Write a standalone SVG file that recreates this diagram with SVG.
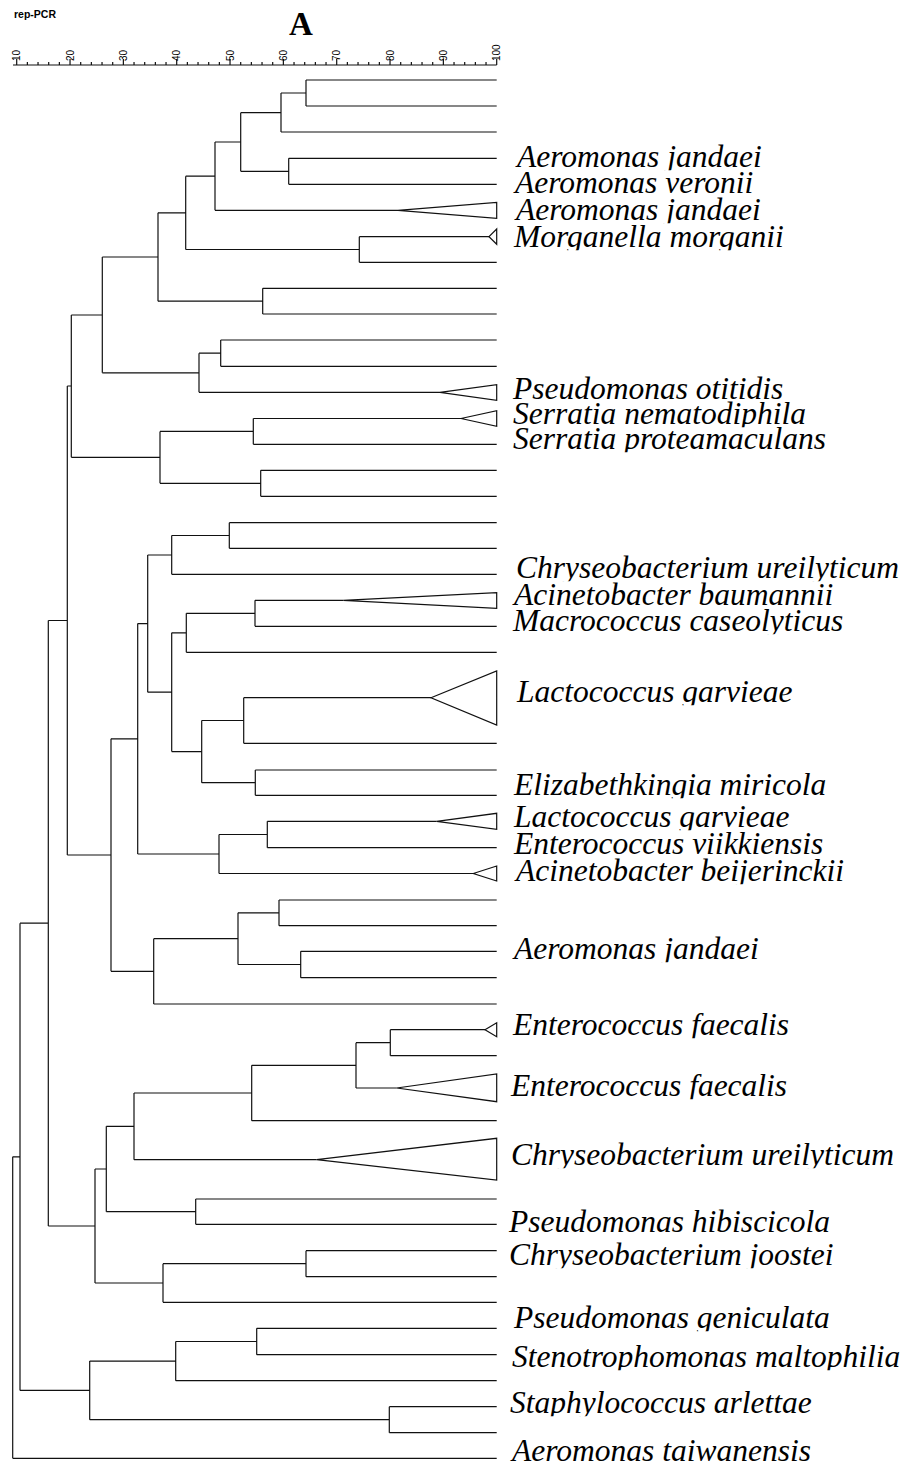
<svg xmlns="http://www.w3.org/2000/svg" width="912" height="1466" viewBox="0 0 912 1466">
  <style>
    .br { fill: none; stroke: #111; stroke-width: 1.2; }
    .tri { fill: #fff; stroke: #111; stroke-width: 1.2; stroke-linejoin: miter; }
    .lbl { font-family: "Liberation Serif", "Times New Roman", serif; font-style: italic; font-size: 31.5px; fill: #000; }
    .tick { font-family: "Liberation Sans", Arial, sans-serif; font-size: 10px; fill: #000; }
  </style>
  <defs>
    <!-- species labels lose the lower part of their descenders -->
    <clipPath id="cut" clipPathUnits="objectBoundingBox">
      <rect x="-0.05" y="-0.1" width="1.1" height="0.99"/>
    </clipPath>
  </defs>
  <rect width="912" height="1466" fill="#fff"/>

  <!-- header -->
  <g id="title">
    <text x="14" y="18" font-family="Liberation Sans, Arial, sans-serif" font-weight="bold" font-size="10.5">rep-PCR</text>
    <text x="289" y="35" font-family="Liberation Serif, Times New Roman, serif" font-weight="bold" font-size="33">A</text>
  </g>

  <!-- similarity scale (%) -->
  <g id="scale">
    <path class="br" d="M13,65H496.7"/>
    <path class="br" d="M16.7,65v-6 M27.37,65v-3 M38.03,65v-3 M48.7,65v-3 M59.37,65v-3 M70.03,65v-6 M80.7,65v-3 M91.37,65v-3 M102.03,65v-3 M112.7,65v-3 M123.37,65v-6 M134.03,65v-3 M144.7,65v-3 M155.37,65v-3 M166.03,65v-3 M176.7,65v-6 M187.37,65v-3 M198.03,65v-3 M208.7,65v-3 M219.37,65v-3 M230.03,65v-6 M240.7,65v-3 M251.37,65v-3 M262.03,65v-3 M272.7,65v-3 M283.37,65v-6 M294.03,65v-3 M304.7,65v-3 M315.37,65v-3 M326.03,65v-3 M336.7,65v-6 M347.37,65v-3 M358.03,65v-3 M368.7,65v-3 M379.37,65v-3 M390.03,65v-6 M400.7,65v-3 M411.37,65v-3 M422.03,65v-3 M432.7,65v-3 M443.37,65v-6 M454.03,65v-3 M464.7,65v-3 M475.37,65v-3 M486.03,65v-3 M496.7,65v-6"/>
    <text class="tick" transform="translate(20.3,61) rotate(-90)">10</text>
    <text class="tick" transform="translate(73.6,61) rotate(-90)">20</text>
    <text class="tick" transform="translate(127,61) rotate(-90)">30</text>
    <text class="tick" transform="translate(180.3,61) rotate(-90)">40</text>
    <text class="tick" transform="translate(233.6,61) rotate(-90)">50</text>
    <text class="tick" transform="translate(287,61) rotate(-90)">60</text>
    <text class="tick" transform="translate(340.3,61) rotate(-90)">70</text>
    <text class="tick" transform="translate(393.6,61) rotate(-90)">80</text>
    <text class="tick" transform="translate(447,61) rotate(-90)">90</text>
    <text class="tick" transform="translate(500.3,61) rotate(-90)">100</text>
  </g>

  <!-- branches: each internal node = horizontal stem from its parent + vertical joining its children -->
  <g id="connectors" class="br">
    <!-- terminal branches -->
    <path d="M306,80H496.7 M306,106H496.7 M281,132H496.7 M288.7,158.3H496.7 M288.7,184.3H496.7 M215,210.3H398 M359.3,236.7H489 M359.3,262.3H496.7 M262.7,288.3H496.7 M262.7,314H496.7 M220.7,340H496.7 M220.7,366.3H496.7 M199,392.3H440 M253.3,418.5H461 M253.3,444.3H496.7 M260.7,470.3H496.7 M260.7,496.3H496.7"/>
    <path d="M229.3,522.7H496.7 M229.3,548.3H496.7 M171.7,574.3H496.7 M255,600.3H343.3 M255,626.3H496.7 M186.3,652.3H496.7 M243.7,697.7H431 M243.7,743.3H496.7 M255.3,770H496.7 M255.3,795.3H496.7 M267.3,821.3H436.7 M267.3,847.7H496.7 M219,873.5H473.3 M279,900H496.7 M279,925.7H496.7 M300.7,951.3H496.7 M300.7,977.7H496.7 M153.7,1004H496.7"/>
    <path d="M390.3,1029.7H485 M390.3,1055.7H496.7 M356,1088H396.7 M251.7,1120.7H496.7 M134,1159.7H316.7 M195.7,1199H496.7 M195.7,1224.3H496.7 M306,1250.7H496.7 M306,1276.7H496.7 M163,1302.3H496.7 M256.7,1328.3H496.7 M256.7,1354.7H496.7 M175.7,1380.7H496.7 M389.3,1406.7H496.7 M389.3,1432.7H496.7 M12.7,1458.3H496.7"/>
    <!-- upper cluster -->
    <path d="M281,93H306 M306,80V106"/>
    <path d="M240.7,112.7H281 M281,93V132"/>
    <path d="M240.7,171.3H288.7 M288.7,158.3V184.3"/>
    <path d="M215,142H240.7 M240.7,112.7V171.3"/>
    <path d="M185.7,176.2H215 M215,142V210.3"/>
    <path d="M185.7,249.5H359.3 M359.3,236.7V262.3"/>
    <path d="M158,212.8H185.7 M185.7,176.2V249.5"/>
    <path d="M158,301.2H262.7 M262.7,288.3V314"/>
    <path d="M102.3,257H158 M158,212.8V301.2"/>
    <path d="M199,353.2H220.7 M220.7,340V366.3"/>
    <path d="M102.3,372.8H199 M199,353.2V392.3"/>
    <path d="M71.3,315H102.3 M102.3,257V372.8"/>
    <path d="M160,431.4H253.3 M253.3,418.5V444.3"/>
    <path d="M160,483.3H260.7 M260.7,470.3V496.3"/>
    <path d="M71.3,457.3H160 M160,431.4V483.3"/>
    <path d="M67.3,386H71.3 M71.3,315V457.3"/>
    <!-- middle cluster -->
    <path d="M171.7,535.5H229.3 M229.3,522.7V548.3"/>
    <path d="M147.7,555H171.7 M171.7,535.5V574.3"/>
    <path d="M186.3,613.3H255 M255,600.3V626.3"/>
    <path d="M171.7,632.8H186.3 M186.3,613.3V652.3"/>
    <path d="M201.7,720.5H243.7 M243.7,697.7V743.3"/>
    <path d="M201.7,782.7H255.3 M255.3,770V795.3"/>
    <path d="M171.7,751.6H201.7 M201.7,720.5V782.7"/>
    <path d="M147.7,692.2H171.7 M171.7,632.8V751.6"/>
    <path d="M137.7,623.6H147.7 M147.7,555V692.2"/>
    <path d="M219,834.5H267.3 M267.3,821.3V847.7"/>
    <path d="M137.7,854H219 M219,834.5V873.5"/>
    <path d="M111,738.8H137.7 M137.7,623.6V854"/>
    <path d="M238,912.8H279 M279,900V925.7"/>
    <path d="M238,964.5H300.7 M300.7,951.3V977.7"/>
    <path d="M153.7,938.7H238 M238,912.8V964.5"/>
    <path d="M111,971.3H153.7 M153.7,938.7V1004"/>
    <path d="M67.3,855H111 M111,738.8V971.3"/>
    <path d="M48.3,620.5H67.3 M67.3,386V855"/>
    <!-- lower cluster -->
    <path d="M356,1042.7H390.3 M390.3,1029.7V1055.7"/>
    <path d="M251.7,1065.3H356 M356,1042.7V1088"/>
    <path d="M134,1093H251.7 M251.7,1065.3V1120.7"/>
    <path d="M106.3,1126.3H134 M134,1093V1159.7"/>
    <path d="M106.3,1211.7H195.7 M195.7,1199V1224.3"/>
    <path d="M95,1169H106.3 M106.3,1126.3V1211.7"/>
    <path d="M163,1263.7H306 M306,1250.7V1276.7"/>
    <path d="M95,1283H163 M163,1263.7V1302.3"/>
    <path d="M48.3,1226H95 M95,1169V1283"/>
    <path d="M20,923.2H48.3 M48.3,620.5V1226"/>
    <path d="M175.7,1341.5H256.7 M256.7,1328.3V1354.7"/>
    <path d="M89.7,1361.1H175.7 M175.7,1341.5V1380.7"/>
    <path d="M89.7,1419.7H389.3 M389.3,1406.7V1432.7"/>
    <path d="M20,1390.4H89.7 M89.7,1361.1V1419.7"/>
    <path d="M12.7,1156.8H20 M20,923.2V1390.4"/>
    <path d="M12.7,1156.8V1458.3"/>
  </g>

  <!-- collapsed clades -->
  <g id="clade-aeromonas-jandaei-1"><polygon class="tri" points="398,210.3 496.7,202.3 496.7,218.3"/></g>
  <g id="clade-morganella"><polygon class="tri" points="489,236.7 496.7,229 496.7,244.3"/></g>
  <g id="clade-pseudomonas-otitidis"><polygon class="tri" points="440,392.3 496.7,384.7 496.7,400.3"/></g>
  <g id="clade-serratia-nematodiphila"><polygon class="tri" points="461,418.5 496.7,410.7 496.7,426.3"/></g>
  <g id="clade-acinetobacter-baumannii"><polygon class="tri" points="343.3,600.3 496.7,592.7 496.7,608.3"/></g>
  <g id="clade-lactococcus-1"><polygon class="tri" points="431,697.7 496.7,671 496.7,725"/></g>
  <g id="clade-lactococcus-2"><polygon class="tri" points="436.7,821.3 496.7,813.3 496.7,829.3"/></g>
  <g id="clade-acinetobacter-beijerinckii"><polygon class="tri" points="473.3,873.5 496.7,866 496.7,881"/></g>
  <g id="clade-enterococcus-1"><polygon class="tri" points="485,1029.7 496.7,1022.7 496.7,1036.7"/></g>
  <g id="clade-enterococcus-2"><polygon class="tri" points="396.7,1088 496.7,1074 496.7,1101.7"/></g>
  <g id="clade-chryseobacterium-2"><polygon class="tri" points="316.7,1159.7 496.7,1138.3 496.7,1180"/></g>

  <!-- species labels -->
  <g id="label-1"><text class="lbl" clip-path="url(#cut)" x="517" y="167">Aeromonas jandaei</text></g>
  <g id="label-2"><text class="lbl" clip-path="url(#cut)" x="515" y="193">Aeromonas veronii</text></g>
  <g id="label-3"><text class="lbl" clip-path="url(#cut)" x="516" y="220">Aeromonas jandaei</text></g>
  <g id="label-4"><text class="lbl" clip-path="url(#cut)" x="514" y="247">Morganella morganii</text></g>
  <g id="label-5"><text class="lbl" clip-path="url(#cut)" x="513" y="399">Pseudomonas otitidis</text></g>
  <g id="label-6"><text class="lbl" clip-path="url(#cut)" x="513" y="424">Serratia nematodiphila</text></g>
  <g id="label-7"><text class="lbl" clip-path="url(#cut)" x="513" y="449">Serratia proteamaculans</text></g>
  <g id="label-8"><text class="lbl" clip-path="url(#cut)" x="516" y="578">Chryseobacterium ureilyticum</text></g>
  <g id="label-9"><text class="lbl" clip-path="url(#cut)" x="514" y="605">Acinetobacter baumannii</text></g>
  <g id="label-10"><text class="lbl" clip-path="url(#cut)" x="513" y="631">Macrococcus caseolyticus</text></g>
  <g id="label-11"><text class="lbl" clip-path="url(#cut)" x="517" y="702">Lactococcus garvieae</text></g>
  <g id="label-12"><text class="lbl" clip-path="url(#cut)" x="514" y="795">Elizabethkingia miricola</text></g>
  <g id="label-13"><text class="lbl" clip-path="url(#cut)" x="514" y="827">Lactococcus garvieae</text></g>
  <g id="label-14"><text class="lbl" clip-path="url(#cut)" x="514" y="854">Enterococcus viikkiensis</text></g>
  <g id="label-15"><text class="lbl" clip-path="url(#cut)" x="516" y="881">Acinetobacter beijerinckii</text></g>
  <g id="label-16"><text class="lbl" clip-path="url(#cut)" x="514" y="959">Aeromonas jandaei</text></g>
  <g id="label-17"><text class="lbl" clip-path="url(#cut)" x="513" y="1035">Enterococcus faecalis</text></g>
  <g id="label-18"><text class="lbl" clip-path="url(#cut)" x="511" y="1096">Enterococcus faecalis</text></g>
  <g id="label-19"><text class="lbl" clip-path="url(#cut)" x="511" y="1165">Chryseobacterium ureilyticum</text></g>
  <g id="label-20"><text class="lbl" clip-path="url(#cut)" x="509" y="1232">Pseudomonas hibiscicola</text></g>
  <g id="label-21"><text class="lbl" clip-path="url(#cut)" x="509" y="1265">Chryseobacterium joostei</text></g>
  <g id="label-22"><text class="lbl" clip-path="url(#cut)" x="514" y="1328">Pseudomonas geniculata</text></g>
  <g id="label-23"><text class="lbl" clip-path="url(#cut)" x="512" y="1367">Stenotrophomonas maltophilia</text></g>
  <g id="label-24"><text class="lbl" clip-path="url(#cut)" x="510" y="1413">Staphylococcus arlettae</text></g>
  <g id="label-25"><text class="lbl" clip-path="url(#cut)" x="512" y="1461">Aeromonas taiwanensis</text></g>
</svg>
